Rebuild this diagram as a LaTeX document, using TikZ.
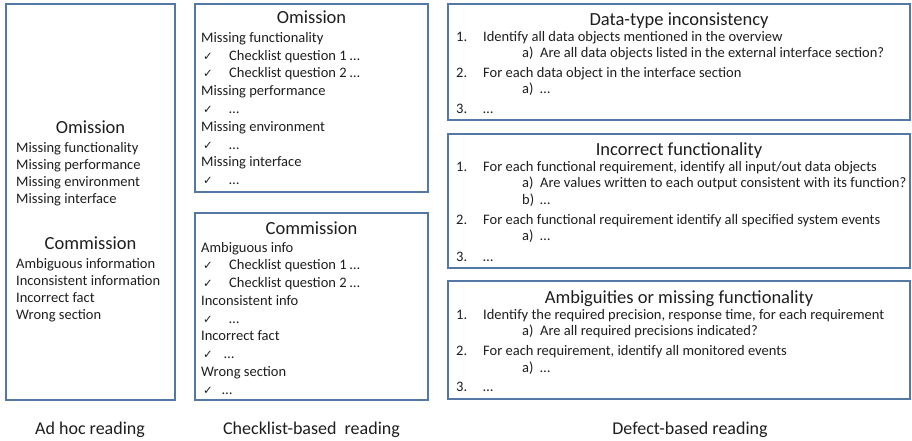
\documentclass[tikz,border=0pt]{standalone}
\usepackage{fontspec}
\setmainfont{Carlito}
\newfontfamily\symf{DejaVu Sans}
\definecolor{boxc}{RGB}{84,120,166}
\definecolor{txt}{RGB}{30,30,30}
\tikzset{
  box/.style={draw=boxc, line width=1.5pt, inner sep=0pt, fill=white},
  body/.style={anchor=base west, inner sep=0pt, text=txt, font=\fontsize{14.5}{16}\selectfont},
  chk/.style={anchor=base west, inner sep=0pt, text=txt, font=\symf\fontsize{11.5}{13}\selectfont},
  head/.style={anchor=base, inner sep=0pt, text=txt, font=\fontsize{18.5}{20}\selectfont},
  foot/.style={anchor=base, inner sep=0pt, text=txt, font=\fontsize{18}{20}\selectfont}
}
\begin{document}
\begin{tikzpicture}[x=1pt,y=-1pt]
\useasboundingbox[fill=white] (0,0) rectangle (912,441);
% boxes
\node[box, minimum width=169pt, minimum height=396pt] (adhoc) at (90.5,202) {};
\node[box, minimum width=233pt, minimum height=188pt] (clom) at (311.5,98) {};
\node[box, minimum width=233pt, minimum height=187pt] (clcom) at (311.5,306.5) {};
\node[box, minimum width=462pt, minimum height=116pt] (dt) at (679,62) {};
\node[box, minimum width=462pt, minimum height=134pt] (inf) at (679,201) {};
\node[box, minimum width=462pt, minimum height=118pt] (amb) at (679,340) {};
% ad hoc
\node[head] (ah1) at (90.5,133) {Omission};
\node[body] (ah2) at (16,152) {Missing functionality};
\node[body] (ah3) at (16,169) {Missing performance};
\node[body] (ah4) at (16,186) {Missing environment};
\node[body] (ah5) at (16,203) {Missing interface};
\node[head] (ah6) at (90.5,249) {Commission};
\node[body] (ah7) at (16,268) {Ambiguous information};
\node[body] (ah8) at (16,285) {Inconsistent information};
\node[body] (ah9) at (16,302) {Incorrect fact};
\node[body] (ah10) at (16,319) {Wrong section};
% checklist omission
\node[head] (co0) at (311.5,24) {Omission};
\node[body] (co1) at (201,42.5) {Missing functionality};
\node[chk] (co2c) at (203,60.3) {✓};
\node[body] (co2) at (229,60.3) {Checklist question 1 …};
\node[chk] (co3c) at (203,78) {✓};
\node[body] (co3) at (229,78) {Checklist question 2 …};
\node[body] (co4) at (201,95.8) {Missing performance};
\node[chk] (co5c) at (203,113.5) {✓};
\node[body] (co5) at (229,113.5) {…};
\node[body] (co6) at (201,131.3) {Missing environment};
\node[chk] (co7c) at (203,149) {✓};
\node[body] (co7) at (229,149) {…};
\node[body] (co8) at (201,166.8) {Missing interface};
\node[chk] (co9c) at (203,184.5) {✓};
\node[body] (co9) at (229,184.5) {…};
% checklist commission
\node[head] (cc0) at (311.5,234) {Commission};
\node[body] (cc1) at (201,252) {Ambiguous info};
\node[chk] (cc2c) at (203,269.8) {✓};
\node[body] (cc2) at (229,269.8) {Checklist question 1 …};
\node[chk] (cc3c) at (203,287.5) {✓};
\node[body] (cc3) at (229,287.5) {Checklist question 2 …};
\node[body] (cc4) at (201,305.3) {Inconsistent info};
\node[chk] (cc5c) at (203,323) {✓};
\node[body] (cc5) at (229,323) {…};
\node[body] (cc6) at (201,340.8) {Incorrect fact};
\node[chk] (cc7c) at (203,358.5) {✓};
\node[body] (cc7) at (224,358.5) {…};
\node[body] (cc8) at (201,376.3) {Wrong section};
\node[chk] (cc9c) at (203,394) {✓};
\node[body] (cc9) at (222,394) {…};
% data-type
\node[head] (d0) at (679,26) {Data-type inconsistency};
\node[body] (d1n) at (456,42) {1.};
\node[body] (d1) at (483,42) {Identify all data objects mentioned in the overview};
\node[body] (d2n) at (522,58) {a)};
\node[body] (d2) at (540,58) {Are all data objects listed in the external interface section?};
\node[body] (d3n) at (456,77.5) {2.};
\node[body] (d3) at (483,77.5) {For each data object in the interface section};
\node[body] (d4n) at (522,94) {a)};
\node[body] (d4) at (540,94) {…};
\node[body] (d5n) at (456,113.5) {3.};
\node[body] (d5) at (483,113.5) {…};
% incorrect functionality
\node[head] (f0) at (679,155.7) {Incorrect functionality};
\node[body] (f1n) at (456,171.7) {1.};
\node[body] (f1) at (483,171.7) {For each functional requirement, identify all input/out data objects};
\node[body] (f2n) at (522,187.7) {a)};
\node[body] (f2) at (540,187.7) {Are values written to each output consistent with its function?};
\node[body] (f3n) at (522,204.2) {b)};
\node[body] (f3) at (540,204.2) {…};
\node[body] (f4n) at (456,224.2) {2.};
\node[body] (f4) at (483,224.2) {For each functional requirement identify all specified system events};
\node[body] (f5n) at (522,240.7) {a)};
\node[body] (f5) at (540,240.7) {…};
\node[body] (f6n) at (456,261) {3.};
\node[body] (f6) at (483,261) {…};
% ambiguities
\node[head] (a0) at (679,303.7) {Ambiguities or missing functionality};
\node[body] (a1n) at (456,319.7) {1.};
\node[body] (a1) at (483,319.7) {Identify the required precision, response time, for each requirement};
\node[body] (a2n) at (522,335.7) {a)};
\node[body] (a2) at (540,335.7) {Are all required precisions indicated?};
\node[body] (a3n) at (456,355.5) {2.};
\node[body] (a3) at (483,355.5) {For each requirement, identify all monitored events};
\node[body] (a4n) at (522,372) {a)};
\node[body] (a4) at (540,372) {…};
\node[body] (a5n) at (456,391.5) {3.};
\node[body] (a5) at (483,391.5) {…};
% footers
\node[foot] (l1) at (90,434) {Ad hoc reading};
\node[foot] (l2) at (311.5,434) {Checklist-based\ \ reading};
\node[foot] (l3) at (690,434) {Defect-based reading};
\end{tikzpicture}
\end{document}
